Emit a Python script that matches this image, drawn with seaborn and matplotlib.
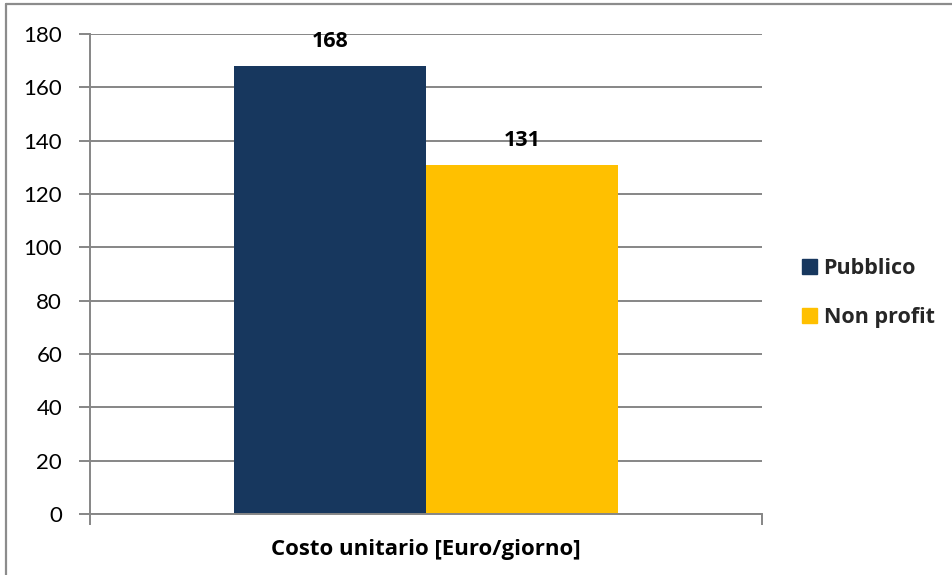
import matplotlib
matplotlib.use("Agg")
import matplotlib.pyplot as plt
import matplotlib.lines as mlines
import seaborn as sns
import pandas as pd

categories = ["Costo unitario [Euro/giorno]"]
series = ["Pubblico", "Non profit"]
values = [168, 131]
colors = ["#17375E", "#FFC000"]
yticks = [0, 20, 40, 60, 80, 100, 120, 140, 160, 180]

df = pd.DataFrame({"cat": categories * len(series), "serie": series, "valore": values})

sns.set_theme(style="white")
plt.rcParams["font.family"] = ["Lato", "DejaVu Sans"]
bold_family = ["Open Sans", "DejaVu Sans"]

W, H = 952, 575
fig = plt.figure(figsize=(W / 100, H / 100), dpi=100)
ax = fig.add_axes([90 / W, (H - 514) / H, (762 - 90) / W, (514 - 34) / H])

sns.barplot(data=df, x="cat", y="valore", hue="serie", palette=colors,
            width=0.571, saturation=1, ax=ax, legend=False, linewidth=0)

grey = "#868686"
ax.set_xlim(-0.5, 0.5)
ax.set_ylim(0, 180)
ax.set_yticks(yticks)
ax.set_yticklabels([str(v) for v in yticks], fontsize=16, color="black")
ax.yaxis.grid(True, color=grey, linewidth=1.4)
ax.set_axisbelow(True)
ax.set_xticks([-0.5, 0.5])
ax.set_xticklabels([])
ax.tick_params(axis="y", direction="out", length=8, width=1.4, color=grey, pad=12, left=True)
ax.tick_params(axis="x", direction="out", length=8, width=1.4, color=grey, bottom=True)
for s in ["top", "right"]:
    ax.spines[s].set_visible(False)
for s in ["left", "bottom"]:
    ax.spines[s].set_color(grey)
    ax.spines[s].set_linewidth(1.4)
ax.set_ylabel("")
ax.set_xlabel("")

# value labels above each bar
for cont in ax.containers:
    ax.bar_label(cont, fmt="%d", padding=10, fontsize=15.5, color="black",
                 family=bold_family, fontweight="bold")

# category label below the axis
fig.text(426 / W, 1 - 549 / H, categories[0], ha="center", va="center",
         fontsize=16, color="black", family=bold_family, fontweight="bold")

# legend on the right
handles = [plt.Rectangle((0, 0), 1, 1, color=c) for c in colors]
fig.legend(handles, series, loc="center left", bbox_to_anchor=(802 / W, 1 - 293 / H),
           frameon=False, prop={"size": 15.5, "weight": "bold", "family": bold_family},
           borderpad=0, borderaxespad=0,
           handlelength=0.7, handleheight=0.7, handletextpad=0.3, labelspacing=1.3)

# chart frame edges
fig.add_artist(mlines.Line2D([6 / W, 1], [1 - 4 / H, 1 - 4 / H], color="#8C8C8C", linewidth=1.6))
fig.add_artist(mlines.Line2D([6 / W, 6 / W], [0, 1 - 4 / H], color="#8C8C8C", linewidth=1.6))

fig.savefig("out.png", dpi=100)
